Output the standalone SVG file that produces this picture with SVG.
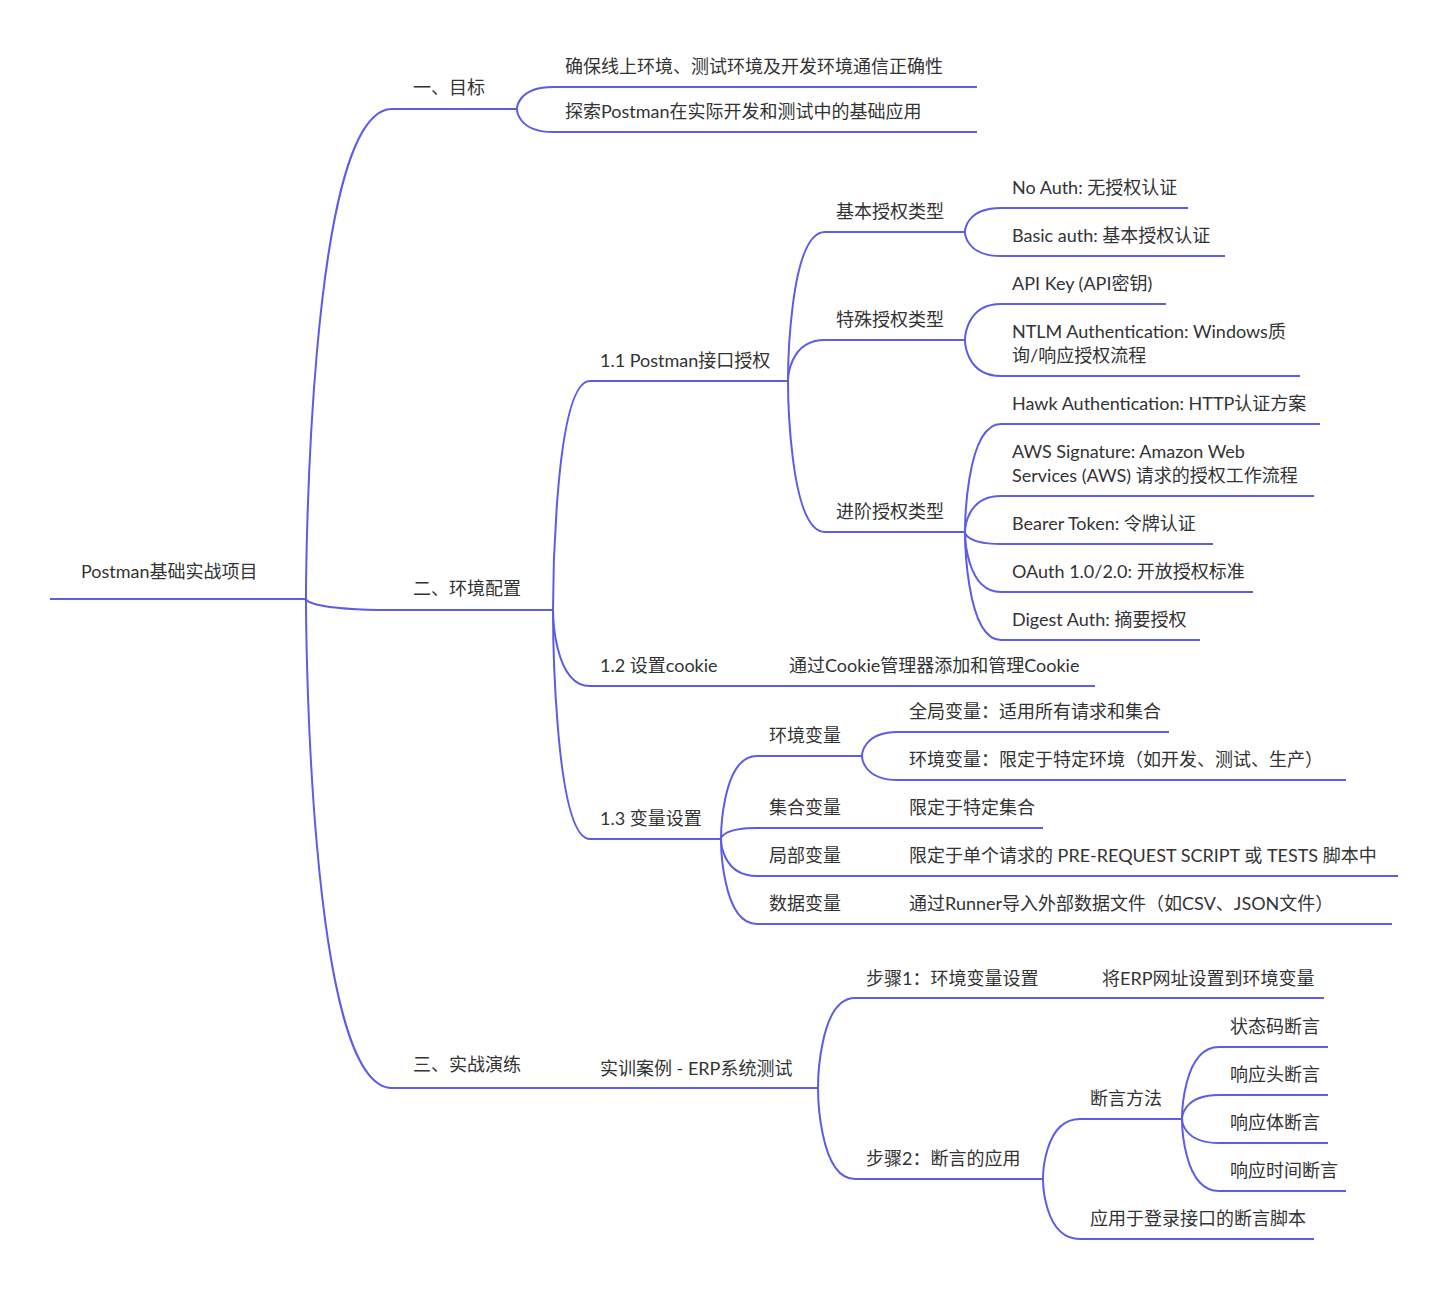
<svg xmlns="http://www.w3.org/2000/svg" width="1449" height="1290" viewBox="0 0 1449 1290">
<style>
.t{font-family:Lato,"Noto Sans CJK SC",sans-serif;font-size:18px;fill:#333}
.u{stroke:#5c5ce6;stroke-width:2;fill:none}
.c{stroke:#5c5ce6;stroke-width:2;fill:none}
</style>
<rect width="1449" height="1290" fill="#fff"/>
<g id="connectors">
<path class="c" d="M306 599 C306 599 306 109 392 109"/>
<path class="c" d="M306 599 C306 599 306 610 392 610"/>
<path class="c" d="M306 599 C306 599 306 1088 392 1088"/>
<path class="c" d="M517 109 C517 109 517 87 553 87"/>
<path class="c" d="M517 109 C517 109 517 132 553 132"/>
<path class="c" d="M553 610 C553 610 553 381 590 381"/>
<path class="c" d="M553 610 C553 610 553 686 590 686"/>
<path class="c" d="M553 610 C553 610 553 839 590 839"/>
<path class="c" d="M788 381 C788 381 788 232 825 232"/>
<path class="c" d="M788 381 C788 381 788 340 825 340"/>
<path class="c" d="M788 381 C788 381 788 532 825 532"/>
<path class="c" d="M965 232 C965 232 965 208 1001 208"/>
<path class="c" d="M965 232 C965 232 965 256 1001 256"/>
<path class="c" d="M965 340 C965 340 965 304 1001 304"/>
<path class="c" d="M965 340 C965 340 965 376 1001 376"/>
<path class="c" d="M965 532 C965 532 965 424 1001 424"/>
<path class="c" d="M965 532 C965 532 965 496 1001 496"/>
<path class="c" d="M965 532 C965 532 965 544 1001 544"/>
<path class="c" d="M965 532 C965 532 965 592 1001 592"/>
<path class="c" d="M965 532 C965 532 965 640 1001 640"/>
<path class="c" d="M721 839 C721 839 721 756 757 756"/>
<path class="c" d="M721 839 C721 839 721 828 757 828"/>
<path class="c" d="M721 839 C721 839 721 876 757 876"/>
<path class="c" d="M721 839 C721 839 721 924 757 924"/>
<path class="c" d="M862 756 C862 756 862 732 898 732"/>
<path class="c" d="M862 756 C862 756 862 780 898 780"/>
<path class="c" d="M818 1088 C818 1088 818 998 855 998"/>
<path class="c" d="M818 1088 C818 1088 818 1179 855 1179"/>
<path class="c" d="M1043 1179 C1043 1179 1043 1119 1080 1119"/>
<path class="c" d="M1043 1179 C1043 1179 1043 1239 1080 1239"/>
<path class="c" d="M1182 1119 C1182 1119 1182 1047 1219 1047"/>
<path class="c" d="M1182 1119 C1182 1119 1182 1095 1219 1095"/>
<path class="c" d="M1182 1119 C1182 1119 1182 1143 1219 1143"/>
<path class="c" d="M1182 1119 C1182 1119 1182 1191 1219 1191"/>
</g>
<g id="root"><line class="u" x1="50" y1="599" x2="306" y2="599"/><text class="t" x="81" y="578">Postman基础实战项目</text></g>
<g id="n1"><line class="u" x1="392" y1="109" x2="517" y2="109"/><text class="t" x="413" y="94">一、目标</text></g>
<g id="n1a"><line class="u" x1="553" y1="87" x2="977" y2="87"/><text class="t" x="565" y="73">确保线上环境、测试环境及开发环境通信正确性</text></g>
<g id="n1b"><line class="u" x1="553" y1="132" x2="977" y2="132"/><text class="t" x="565" y="118">探索Postman在实际开发和测试中的基础应用</text></g>
<g id="n2"><line class="u" x1="392" y1="610" x2="553" y2="610"/><text class="t" x="413" y="595">二、环境配置</text></g>
<g id="n21"><line class="u" x1="590" y1="381" x2="788" y2="381"/><text class="t" x="600" y="367">1.1 Postman接口授权</text></g>
<g id="n211"><line class="u" x1="825" y1="232" x2="965" y2="232"/><text class="t" x="836" y="218">基本授权类型</text></g>
<g id="n2111"><line class="u" x1="1001" y1="208" x2="1188" y2="208"/><text class="t" x="1012" y="194">No Auth: 无授权认证</text></g>
<g id="n2112"><line class="u" x1="1001" y1="256" x2="1225" y2="256"/><text class="t" x="1012" y="242">Basic auth: 基本授权认证</text></g>
<g id="n212"><line class="u" x1="825" y1="340" x2="965" y2="340"/><text class="t" x="836" y="326">特殊授权类型</text></g>
<g id="n2121"><line class="u" x1="1001" y1="304" x2="1166" y2="304"/><text class="t" x="1012" y="290">API Key (API密钥)</text></g>
<g id="n2122"><line class="u" x1="1001" y1="376" x2="1300" y2="376"/><text class="t" x="1012" y="338">NTLM Authentication: Windows质</text><text class="t" x="1012" y="362">询/响应授权流程</text></g>
<g id="n213"><line class="u" x1="825" y1="532" x2="965" y2="532"/><text class="t" x="836" y="518">进阶授权类型</text></g>
<g id="n2131"><line class="u" x1="1001" y1="424" x2="1320" y2="424"/><text class="t" x="1012" y="410">Hawk Authentication: HTTP认证方案</text></g>
<g id="n2132"><line class="u" x1="1001" y1="496" x2="1314" y2="496"/><text class="t" x="1012" y="458">AWS Signature: Amazon Web</text><text class="t" x="1012" y="482">Services (AWS) 请求的授权工作流程</text></g>
<g id="n2133"><line class="u" x1="1001" y1="544" x2="1213" y2="544"/><text class="t" x="1012" y="530">Bearer Token: 令牌认证</text></g>
<g id="n2134"><line class="u" x1="1001" y1="592" x2="1253" y2="592"/><text class="t" x="1012" y="578">OAuth 1.0/2.0: 开放授权标准</text></g>
<g id="n2135"><line class="u" x1="1001" y1="640" x2="1200" y2="640"/><text class="t" x="1012" y="626">Digest Auth: 摘要授权</text></g>
<g id="n22"><line class="u" x1="590" y1="686" x2="741" y2="686"/><text class="t" x="600" y="672">1.2 设置cookie</text></g>
<g id="n221"><line class="u" x1="741" y1="686" x2="1095" y2="686"/><text class="t" x="789" y="672">通过Cookie管理器添加和管理Cookie</text></g>
<g id="n23"><line class="u" x1="590" y1="839" x2="721" y2="839"/><text class="t" x="600" y="825">1.3 变量设置</text></g>
<g id="n231"><line class="u" x1="757" y1="756" x2="862" y2="756"/><text class="t" x="769" y="742">环境变量</text></g>
<g id="n2311"><line class="u" x1="898" y1="732" x2="1169" y2="732"/><text class="t" x="909" y="718">全局变量：适用所有请求和集合</text></g>
<g id="n2312"><line class="u" x1="898" y1="780" x2="1346" y2="780"/><text class="t" x="909" y="766">环境变量：限定于特定环境（如开发、测试、生产）</text></g>
<g id="n232"><line class="u" x1="757" y1="828" x2="862" y2="828"/><text class="t" x="769" y="814">集合变量</text></g>
<g id="n2321"><line class="u" x1="862" y1="828" x2="1043" y2="828"/><text class="t" x="909" y="814">限定于特定集合</text></g>
<g id="n233"><line class="u" x1="757" y1="876" x2="862" y2="876"/><text class="t" x="769" y="862">局部变量</text></g>
<g id="n2331"><line class="u" x1="862" y1="876" x2="1398" y2="876"/><text class="t" x="909" y="862">限定于单个请求的 PRE-REQUEST SCRIPT 或 TESTS 脚本中</text></g>
<g id="n234"><line class="u" x1="757" y1="924" x2="862" y2="924"/><text class="t" x="769" y="910">数据变量</text></g>
<g id="n2341"><line class="u" x1="862" y1="924" x2="1392" y2="924"/><text class="t" x="909" y="910">通过Runner导入外部数据文件（如CSV、JSON文件）</text></g>
<g id="n3"><line class="u" x1="392" y1="1088" x2="553" y2="1088"/><text class="t" x="413" y="1071">三、实战演练</text></g>
<g id="n31"><line class="u" x1="553" y1="1088" x2="818" y2="1088"/><text class="t" x="600" y="1075">实训案例 - ERP系统测试</text></g>
<g id="n311"><line class="u" x1="855" y1="998" x2="1055" y2="998"/><text class="t" x="866" y="985">步骤1：环境变量设置</text></g>
<g id="n3111"><line class="u" x1="1055" y1="998" x2="1324" y2="998"/><text class="t" x="1102" y="985">将ERP网址设置到环境变量</text></g>
<g id="n312"><line class="u" x1="855" y1="1179" x2="1043" y2="1179"/><text class="t" x="866" y="1165">步骤2：断言的应用</text></g>
<g id="n3121"><line class="u" x1="1080" y1="1119" x2="1182" y2="1119"/><text class="t" x="1090" y="1105">断言方法</text></g>
<g id="n31211"><line class="u" x1="1219" y1="1047" x2="1328" y2="1047"/><text class="t" x="1230" y="1033">状态码断言</text></g>
<g id="n31212"><line class="u" x1="1219" y1="1095" x2="1328" y2="1095"/><text class="t" x="1230" y="1081">响应头断言</text></g>
<g id="n31213"><line class="u" x1="1219" y1="1143" x2="1328" y2="1143"/><text class="t" x="1230" y="1129">响应体断言</text></g>
<g id="n31214"><line class="u" x1="1219" y1="1191" x2="1346" y2="1191"/><text class="t" x="1230" y="1177">响应时间断言</text></g>
<g id="n3122"><line class="u" x1="1080" y1="1239" x2="1314" y2="1239"/><text class="t" x="1090" y="1225">应用于登录接口的断言脚本</text></g>
</svg>
